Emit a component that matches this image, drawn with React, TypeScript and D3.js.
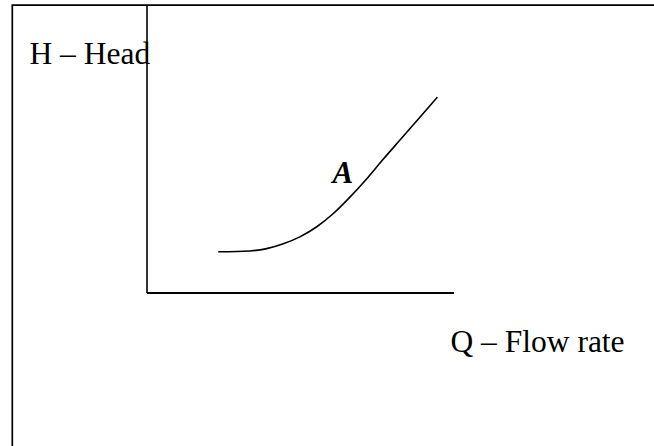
import React from "react";
import * as d3 from "d3";

// Pump characteristic curve A: head H against flow rate Q (arbitrary units)
const flowRate = [2.32, 3.35, 3.9, 4.44, 4.98, 5.53, 6.07, 6.61, 7.16, 7.7, 8.24, 8.79, 9.46];
const head = [1.43, 1.46, 1.54, 1.71, 1.95, 2.3, 2.76, 3.33, 3.97, 4.65, 5.31, 5.98, 6.8];
const qDomain = [0, 10];
const hDomain = [0, 10];

const W = 654;
const H = 446;

export default function App() {
  const x = d3.scaleLinear().domain(qDomain).range([147, 454]);
  const y = d3.scaleLinear().domain(hDomain).range([293, 5]);

  const pts: [number, number][] = flowRate.map((q, i) => [q, head[i]]);
  const line = d3
    .line<[number, number]>()
    .x((d) => x(d[0]))
    .y((d) => y(d[1]))
    .curve(d3.curveMonotoneX);

  const font = "'Liberation Serif', 'Times New Roman', serif";

  return (
    <svg
      width={W}
      height={H}
      style={{ position: "absolute", left: 0, top: 0, background: "#fff" }}
    >
      {/* outer frame */}
      <path d={`M12.3,${H + 2} L12.3,5.2 L${W + 2},5.2`} fill="none" stroke="#000" strokeWidth={1.7} />

      {/* axes */}
      <line x1={x(0)} y1={5} x2={x(0)} y2={y(0)} stroke="#000" strokeWidth={1.6} />
      <line x1={x(0)} y1={y(0)} x2={x(10)} y2={y(0)} stroke="#000" strokeWidth={1.8} />

      {/* curve */}
      <path d={line(pts) || ""} fill="none" stroke="#000" strokeWidth={1.6} />

      <text x={29.5} y={64.3} fontFamily={font} fontSize={31.5} fill="#000">
        H – Head
      </text>
      <text x={450.5} y={351.5} fontFamily={font} fontSize={31.5} fill="#000">
        Q – Flow rate
      </text>
      <text
        x={332.5}
        y={183.3}
        fontFamily={font}
        fontSize={31}
        fontWeight="bold"
        fontStyle="italic"
        fill="#000"
      >
        A
      </text>
    </svg>
  );
}
